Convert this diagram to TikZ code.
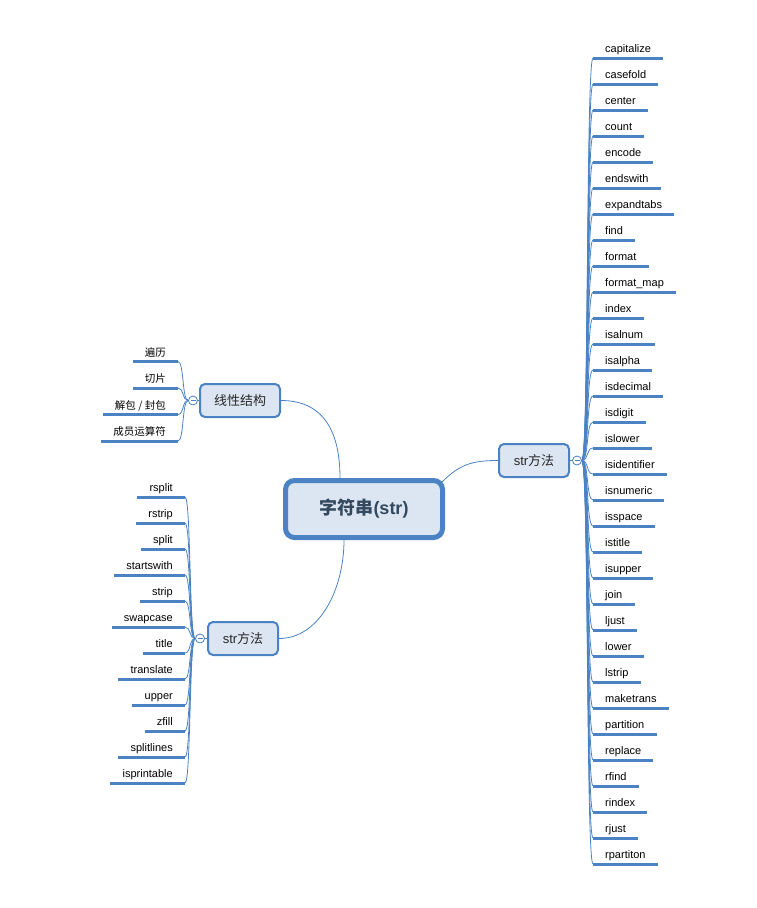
\documentclass[tikz,border=0pt]{standalone}
\usepackage{fontspec}
\setmainfont{Liberation Sans}
\newfontfamily\cjk{Noto Sans CJK SC}
\usetikzlibrary{calc}
\definecolor{mapblue}{HTML}{4A82C3}
\definecolor{mapfill}{HTML}{DCE6F2}
\definecolor{maptext}{HTML}{34495E}

\begin{document}
\begin{tikzpicture}[x=1pt,y=-1pt,
  topic/.style={draw=mapblue,fill=mapfill,rounded corners=5pt,line width=2pt,minimum width=70pt,minimum height=33pt,text=black!85,font=\fontsize{13}{15}\selectfont},
  leaf/.style={inner xsep=12pt,inner ysep=2pt,text height=8pt,text depth=3pt,font=\fontsize{11}{13}\selectfont},
  bar/.style={mapblue,line width=3pt},
  twig/.style={mapblue,line width=0.8pt},
  hub/.style={circle,draw=mapblue,fill=white,line width=0.8pt,inner sep=0pt,minimum size=9pt,
    path picture={\draw[mapblue,line width=0.6pt] ([xshift=-2.5pt]path picture bounding box.center)--([xshift=2.5pt]path picture bounding box.center);}}]
  \useasboundingbox (0,0) rectangle (756,908);
  % Central topic and the three main branches
  \node[draw=mapblue,fill=mapfill,line width=5pt,rounded corners=9pt,minimum width=157pt,minimum height=57pt,text=maptext,font=\fontsize{18}{20}\selectfont\bfseries] (root) at (364,509) {{\cjk 字符串}(str)};
  \node[topic,minimum width=80pt] (lin) at (240,400.5) {\cjk 线性结构};
  \node[topic] (mr) at (534,460.5) {str{\cjk 方法}};
  \node[topic] (ml) at (243,638.5) {str{\cjk 方法}};
  \draw[twig] (lin.east) .. controls +(40,0) and +(0,-50) .. ([xshift=-24pt]root.north);
  \draw[twig] ([shift={(-3,4)}]root.north east) .. controls +(18,-18) and +(-25,0) .. (mr.west);
  \draw[twig] (ml.east) .. controls +(40,0) and +(0,50) .. ([xshift=-20pt]root.south);
  % Collapse markers
  \node[hub] (hr) at ([xshift=7pt]mr.east) {};
  \node[hub] (hl1) at ([xshift=-6pt]lin.west) {};
  \node[hub] (hl2) at ([xshift=-7pt]ml.west) {};
  \draw[twig] (mr.east)--(hr); \draw[twig] (lin.west)--(hl1); \draw[twig] (ml.west)--(hl2);
  % Right: str methods
  \foreach \t [count=\i] in {capitalize,casefold,center,count,encode,endswith,expandtabs,find,format,format\_map,
    index,isalnum,isalpha,isdecimal,isdigit,islower,isidentifier,isnumeric,isspace,istitle,isupper,join,ljust,
    lower,lstrip,maketrans,partition,replace,rfind,rindex,rjust,rpartiton}{
    \node[leaf,anchor=south west] (r\i) at (593,{58+26*(\i-1)}) {\t};
    \draw[twig] (hr.east) .. controls +(7,0) and +(-7,0) .. (r\i.south west);
    \draw[bar] (r\i.south west)--(r\i.south east);
  }
  % Left top: linear structure
  \foreach \t [count=\i] in {遍历,切片,解包 / 封包,成员运算符}{
    \node[leaf,anchor=south east,font=\fontsize{10.5}{12}\cjk] (a\i) at (178,{361.5+26.5*(\i-1)}) {\t};
    \draw[twig] (hl1.west) .. controls +(-6,0) and +(6,0) .. (a\i.south east);
    \draw[bar] (a\i.south west)--(a\i.south east);
  }
  % Left bottom: more str methods
  \foreach \t [count=\i] in {rsplit,rstrip,split,startswith,strip,swapcase,title,translate,upper,zfill,splitlines,isprintable}{
    \node[leaf,anchor=south east] (b\i) at (185,{497+26*(\i-1)}) {\t};
    \draw[twig] (hl2.west) .. controls +(-6,0) and +(6,0) .. (b\i.south east);
    \draw[bar] (b\i.south west)--(b\i.south east);
  }
\end{tikzpicture}
\end{document}
